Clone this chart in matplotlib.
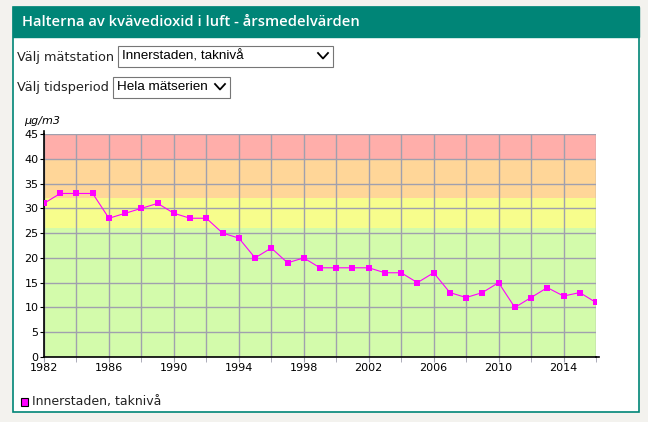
import matplotlib
matplotlib.use("Agg")
import matplotlib.pyplot as plt
from matplotlib.patches import Rectangle

years = list(range(1982, 2017))
values = [31, 33, 33, 33, 28, 29, 30, 31, 29, 28, 28, 25, 24, 20, 22, 19, 20, 18,
          18, 18, 18, 17, 17, 15, 17, 13, 12, 13, 15, 10, 12, 14, 12.3, 13, 11]
band_edges = [0, 26, 32, 40, 45]
band_colors = ["#d3fbab", "#f7fd8c", "#ffd698", "#ffaeaa"]
xtick_labels = ["1982", "1986", "1990", "1994", "1998", "2002", "2006", "2010", "2014"]
series_name = "Innerstaden, taknivå"
title = "Halterna av kvävedioxid i luft - årsmedelvärden"

W, H = 648, 422
fig = plt.figure(figsize=(W / 100, H / 100), dpi=100)
fig.patch.set_facecolor("#f3f2ee")

def fx(x):
    return x / W

def fy(y):
    return 1 - y / H

teal = "#008577"
# panel
fig.patches.append(Rectangle((fx(13), fy(412)), fx(639 - 13), (412 - 7) / H,
                             transform=fig.transFigure, facecolor="white",
                             edgecolor=teal, lw=1.2, zorder=-2))
fig.patches.append(Rectangle((fx(13), fy(37)), fx(639 - 13), 30 / H,
                             transform=fig.transFigure, facecolor=teal,
                             edgecolor=teal, lw=1, zorder=-1))
fig.text(fx(22), fy(22), title, color="white", fontsize=10.6, fontweight="semibold",
         family="Open Sans", va="center", ha="left")

# dropdown controls
fig.text(fx(17), fy(57), "Välj mätstation", fontsize=9.3, family="DejaVu Sans",
         va="center", ha="left", color="#222222")
fig.patches.append(Rectangle((fx(118), fy(67)), fx(333 - 118), 21 / H,
                             transform=fig.transFigure, facecolor="white",
                             edgecolor="#767676", lw=0.8))
fig.text(fx(122), fy(56.5), "Innerstaden, taknivå", fontsize=9.7, family="Liberation Sans",
         va="center", ha="left", color="black")
fig.text(fx(17), fy(87), "Välj tidsperiod", fontsize=9.3, family="DejaVu Sans",
         va="center", ha="left", color="#222222")
fig.patches.append(Rectangle((fx(113), fy(98)), fx(230 - 113), 21 / H,
                             transform=fig.transFigure, facecolor="white",
                             edgecolor="#767676", lw=0.8))
fig.text(fx(117), fy(87.5), "Hela mätserien", fontsize=9.7, family="Liberation Sans",
         va="center", ha="left", color="black")

def chevron(cx, cy):
    xs = [fx(cx - 5), fx(cx), fx(cx + 5)]
    ys = [fy(cy - 3), fy(cy + 2.5), fy(cy - 3)]
    fig.lines.append(plt.Line2D(xs, ys, transform=fig.transFigure, color="black", lw=1.3))

chevron(323, 56)
chevron(220, 87)

# chart
ax = fig.add_axes([fx(44), fy(357), fx(596 - 44), (357 - 134) / H])
ax.set_zorder(5)
ax.patch.set_alpha(0)
for lo, hi, c in zip(band_edges[:-1], band_edges[1:], band_colors):
    ax.axhspan(lo, hi, color=c, lw=0, zorder=0)
ax.set_xlim(1982, 2016)
ax.set_ylim(0, 45)
ax.set_xticks(range(1982, 2017, 4))
ax.set_xticklabels(xtick_labels)
ax.set_xticks(range(1984, 2017, 4), minor=True)
ax.set_yticks(range(0, 46, 5))
ax.grid(True, which="both", axis="x", color="#a0a0ae", lw=1, zorder=1)
ax.grid(True, which="major", axis="y", color="#a0a0ae", lw=1, zorder=1)
ax.set_axisbelow(True)
ax.plot(years, values, color="#ff00ff", lw=0.8, marker="s", markersize=5,
        markeredgewidth=0, clip_on=True, zorder=3)
for s in ["top", "right"]:
    ax.spines[s].set_visible(False)
ax.spines["left"].set_linewidth(1.2)
ax.spines["bottom"].set_linewidth(1.2)
ax.tick_params(axis="x", which="both", length=3.5, color="#a0a0ae", labelsize=8, pad=1)
ax.tick_params(axis="y", length=3, color="black", labelsize=8, pad=1)
for lab in ax.get_xticklabels() + ax.get_yticklabels():
    lab.set_family("DejaVu Sans")
# extend axis lines slightly like the reference
ax.plot([2016, 2016.2], [0, 0], color="black", lw=1.2, clip_on=False, zorder=4)
ax.plot([1982, 1982], [45, 45.6], color="black", lw=1.2, clip_on=False, zorder=4)
fig.text(fx(24), fy(121), "µg/m3", fontsize=8, style="italic", family="DejaVu Sans",
         va="center", ha="left")

# legend
fig.patches.append(Rectangle((fx(21), fy(406)), fx(7), 8 / H, transform=fig.transFigure,
                             facecolor="#ff00ff", edgecolor="black", lw=0.8))
fig.text(fx(32), fy(402), series_name, fontsize=9, family="DejaVu Sans",
         va="center", ha="left", color="#222222")

fig.savefig("out.png", dpi=100, facecolor=fig.get_facecolor())
